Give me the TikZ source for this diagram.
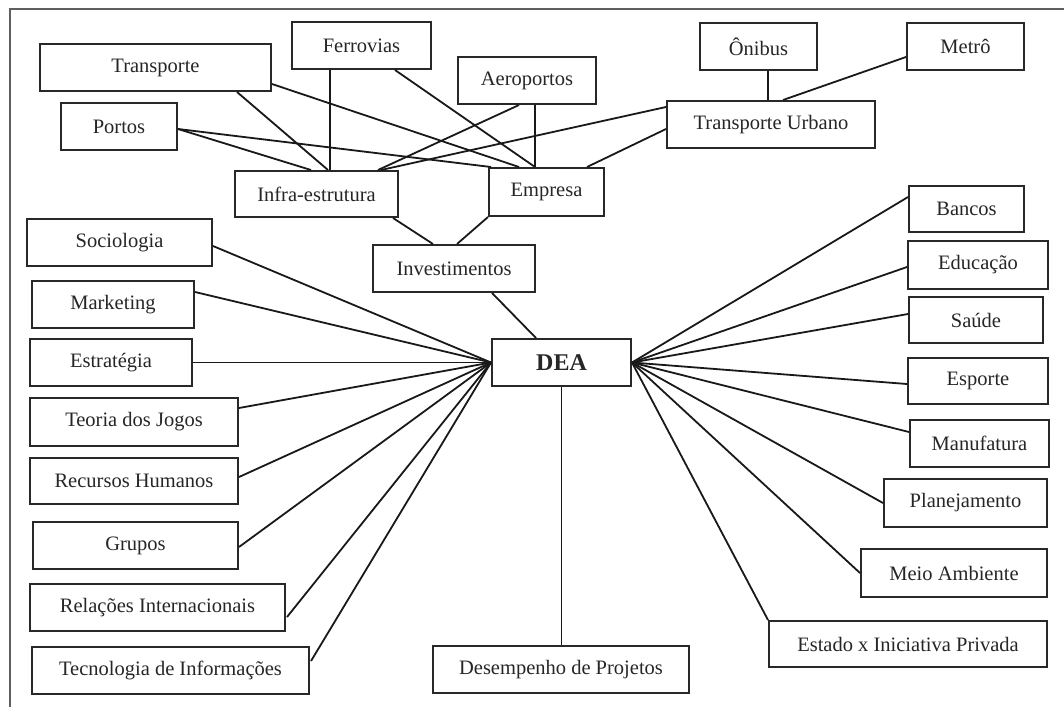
\documentclass[tikz,border=0pt]{standalone}
\usepackage{fontspec}
\setmainfont{Liberation Serif}
\usetikzlibrary{calc}
\definecolor{boxgray}{RGB}{40,40,40}
\definecolor{framegray}{RGB}{95,95,95}
\newcommand\bx[6]{\node[box, minimum width={(#4-#2)*1pt}, minimum height={(#5-#3)*1pt}] (#1) at ({(#2+#4)/2},{(#3+#5)/2}) {#6};}
\begin{document}
\begin{tikzpicture}[x=1pt,y=-1pt,
  box/.style={draw=boxgray, line width=2pt, rectangle, inner sep=0pt, fill=white, font=\fontsize{20.5}{24}\selectfont, text=black!85},
  link/.style={line width=1.8pt, draw=black!90},
  frameline/.style={line width=2.2pt, draw=framegray}]
\useasboundingbox[fill=white] (0,0) rectangle (1064,707);
\draw[frameline] (10,707) -- (10,9) -- (1064,9);
% top cluster
\bx{trans}{40}{44}{271}{91}{Transporte}
\bx{ferro}{292}{22}{431}{69}{Ferrovias}
\bx{aero}{458}{57}{596}{104}{Aeroportos}
\bx{onibus}{700}{23}{817}{70}{Ônibus}
\bx{metro}{907}{23}{1024}{70}{Metrô}
\bx{portos}{61}{103}{177}{150}{Portos}
\bx{tu}{667}{101}{875}{148}{Transporte Urbano}
\bx{infra}{235}{171}{398}{217}{Infra-estrutura}
\bx{empresa}{489}{168}{604}{216}{Empresa}
\bx{invest}{373}{245}{535}{292}{Investimentos}
\node[box, minimum width=139pt, minimum height=47pt, font=\fontsize{24}{28}\selectfont\bfseries] (dea) at (561.5,362.5) {DEA};
% left column
\bx{socio}{27}{219}{212}{266}{Sociologia}
\bx{mkt}{32}{281}{194}{328}{Marketing}
\bx{estr}{30}{339}{192}{386}{Estratégia}
\bx{teoria}{30}{398}{238}{446}{Teoria dos Jogos}
\bx{rh}{30}{458}{238}{504}{Recursos Humanos}
\bx{grupos}{33}{522}{238}{569}{Grupos}
\bx{rel}{30}{584}{285}{631}{Relações Internacionais}
\bx{tec}{32}{647}{309}{694}{Tecnologia de Informações}
% bottom
\bx{desemp}{433}{646}{689}{693}{Desempenho de Projetos}
% right column
\bx{bancos}{909}{186}{1024}{232}{Bancos}
\bx{educ}{908}{241}{1048}{289}{Educação}
\bx{saude}{909}{297}{1043}{343}{Saúde}
\bx{esporte}{908}{358}{1048}{404}{Esporte}
\bx{manuf}{910}{420}{1049}{467}{Manufatura}
\bx{plan}{884}{479}{1047}{527}{Planejamento}
\bx{meio}{861}{549}{1047}{597}{Meio Ambiente}
\bx{estado}{769}{621}{1047}{667}{Estado x Iniciativa Privada}
% top connectors
\draw[link] ($(trans.south west)+(198,0)$) -- ($(infra.north west)+(94,0)$);
\draw[link] ($(ferro.south west)+(39,0)$) -- ($(infra.north west)+(96,0)$);
\draw[link] ($(trans.north east)+(0,41)$) -- ($(empresa.north west)+(31,0)$);
\draw[link] ($(ferro.south west)+(104,0)$) -- ($(empresa.north west)+(47,0)$);
\draw[link] ($(aero.south west)+(78,0)$) -- ($(empresa.north west)+(47,0)$);
\draw[link] ($(portos.north east)+(0,27)$) -- ($(infra.north west)+(77,0)$);
\draw[link] ($(portos.north east)+(0,27)$) -- ($(empresa.north west)+(3,0)$);
\draw[link] ($(infra.north west)+(144,0)$) -- ($(aero.south west)+(62,0)$);
\draw[link] ($(infra.north west)+(147,0)$) -- ($(tu.north west)+(0,7)$);
\draw[link] ($(empresa.north west)+(99,0)$) -- ($(tu.north west)+(0,29)$);
\draw[link] ($(onibus.south west)+(69,0)$) -- ($(tu.north west)+(102,0)$);
\draw[link] ($(metro.north west)+(0,35)$) -- ($(tu.north west)+(117,0)$);
\draw[link] ($(infra.south west)+(159,0)$) -- ($(invest.north west)+(61,0)$);
\draw[link] (empresa.south west) -- ($(invest.north west)+(85,0)$);
\draw[link] ($(invest.south west)+(120,0)$) -- ($(dea.north west)+(45,0)$);
\draw[link] (dea.south) -- (dea.south |- desemp.north);
% left fan
\draw[link] ($(socio.north east)+(0,28)$) -- (dea.west);
\draw[link] ($(mkt.north east)+(0,12)$) -- (dea.west);
\draw[link] (estr.east) -- (dea.west);
\draw[link] ($(teoria.north east)+(0,11)$) -- (dea.west);
\draw[link] ($(rh.north east)+(0,20)$) -- (dea.west);
\draw[link] ($(grupos.north east)+(0,26)$) -- (dea.west);
\draw[link] ($(rel.north east)+(1,34)$) -- (dea.west);
\draw[link] ($(tec.north east)+(1,15)$) -- (dea.west);
% right fan
\draw[link] (dea.east) -- ($(bancos.north west)+(0,12)$);
\draw[link] (dea.east) -- ($(educ.north west)+(0,27)$);
\draw[link] (dea.east) -- ($(saude.north west)+(0,18)$);
\draw[link] (dea.east) -- ($(esporte.north west)+(0,27)$);
\draw[link] (dea.east) -- ($(manuf.north west)+(0,13)$);
\draw[link] (dea.east) -- (plan.west);
\draw[link] (dea.east) -- (meio.west);
\draw[link] (dea.east) -- (estado.north west);
\end{tikzpicture}
\end{document}
